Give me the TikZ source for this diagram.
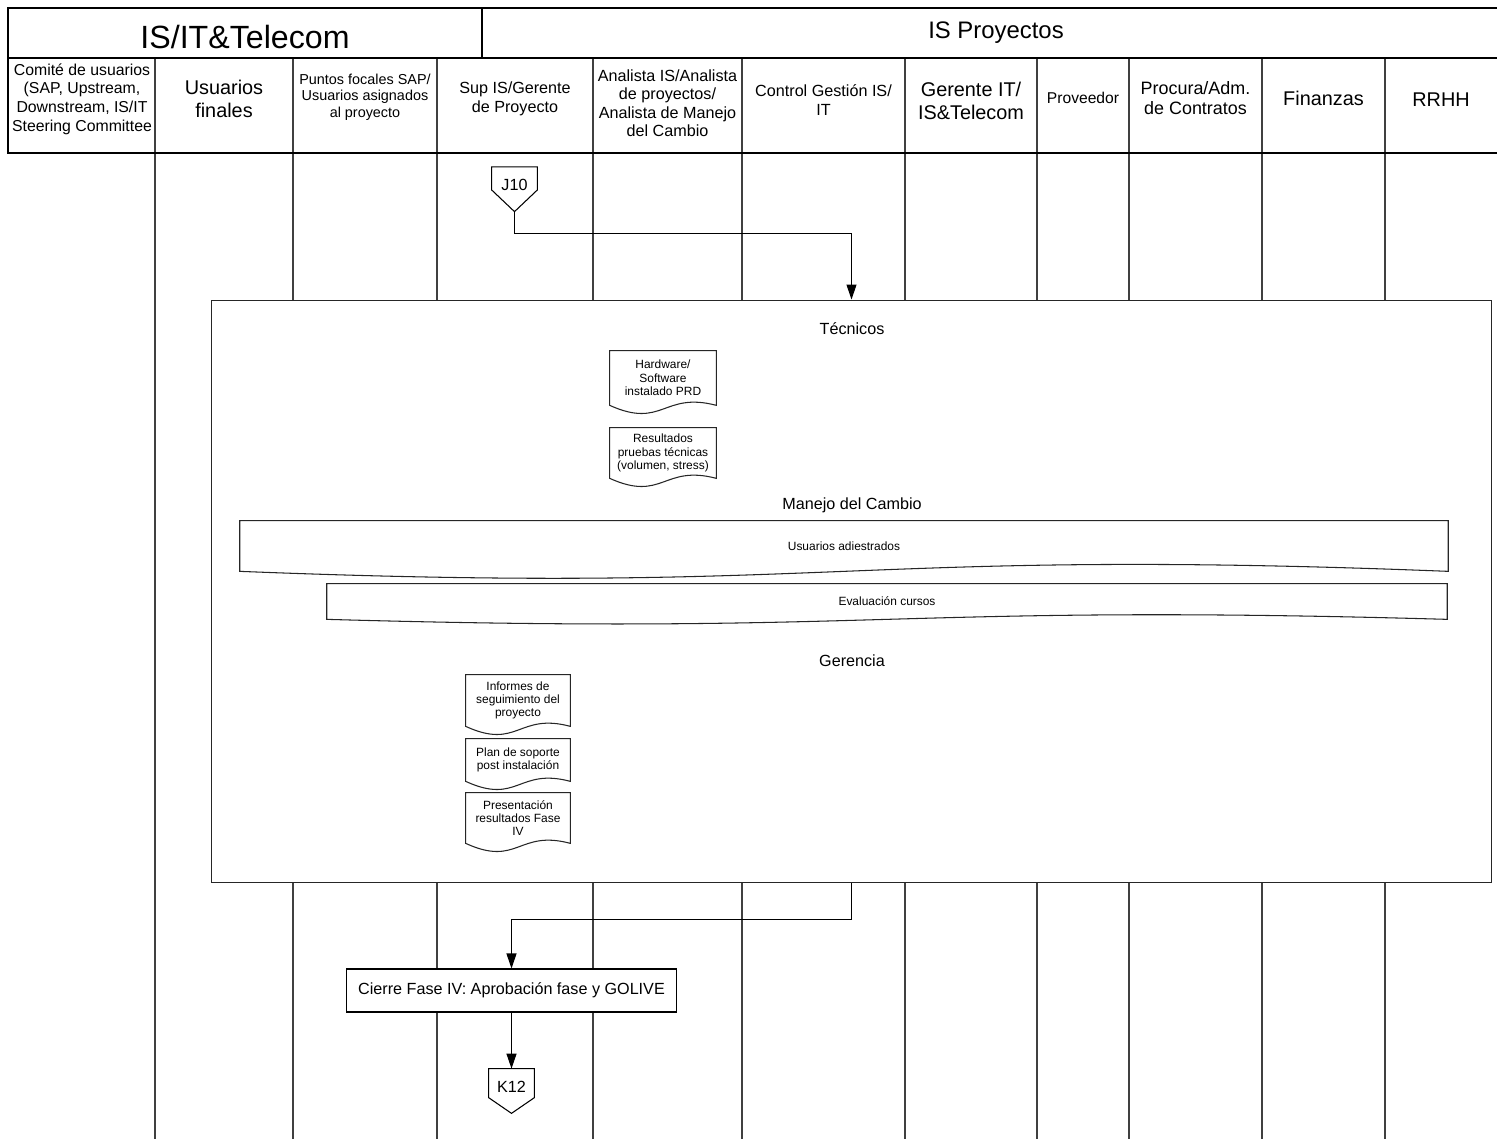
\documentclass[tikz,border=0pt]{standalone}
\usepackage{fontspec}
\setmainfont{Liberation Sans}
\usetikzlibrary{
  calc
  , positioning
  , arrows.meta
}

\begin{document}
\begin{tikzpicture}[x=0.02cm, y=-0.02cm,
    frame/.style={draw=black, line width=0.6pt},
    lane/.style={draw=black!75, line width=0.6pt},
    hdr/.style={align=center, inner sep=0pt, font=\fontsize{9.2}{10.5}\selectfont},
    hdrbig/.style={hdr, font=\fontsize{11.3}{13}\selectfont},
    doc/.style={align=center, inner sep=0pt, font=\fontsize{6.8}{7.6}\selectfont},
    docline/.style={draw=black!85, line width=0.6pt},
    offpage/.style={hdr, minimum width=0.9cm, minimum height=0.88cm, text depth=5pt},
    flow/.style={line width=0.6pt, -{Triangle[length=0.3cm,width=0.2cm]}},
  ]
  \useasboundingbox (0,0) rectangle (1497,1139);

  % lanes
  \foreach \x in {155,293,437,593,742,905,1037,1129,1262,1385}
    \draw[lane] (\x,58) -- (\x,1139);
  \draw[frame] (1497,8) -- (8,8) -- (8,153) -- (1497,153);
  \draw[frame] (8,58) -- (1497,58);
  \draw[frame] (482,8) -- (482,58);

  \node[font=\fontsize{18.3}{20}\selectfont] (ist) at (245,37) {IS/IT\&Telecom};
  \node[font=\fontsize{13.6}{15}\selectfont] (isp) at (996,33) {IS Proyectos};

  \node[hdr, font=\fontsize{9}{10.6}\selectfont] (com) at (82,99)
    {Comité de usuarios\\(SAP, Upstream,\\Downstream, IS/IT\\Steering Committee};
  \node[hdrbig] (usu) at (224,99) {Usuarios\\finales};
  \node[hdr, font=\fontsize{8.2}{9.4}\selectfont] (pfs) at (365,97)
    {Puntos focales SAP/\\Usuarios asignados\\al proyecto};
  \node[hdr] (sup) at (515,99) {Sup IS/Gerente\\de Proyecto};
  \node[hdr] (ana) at (667.5,103)
    {Analista IS/Analista\\de proyectos/\\Analista de Manejo\\del Cambio};
  \node[hdr] (cgi) at (823.5,100) {Control Gestión IS/\\IT};
  \node[hdrbig] (git) at (971,101) {Gerente IT/\\IS\&Telecom};
  \node[hdr, font=\fontsize{8.9}{10}\selectfont] (pro) at (1083,98) {Proveedor};
  \node[hdr, font=\fontsize{10.2}{11.6}\selectfont] (pac) at (1195.5,98)
    {Procura/Adm.\\de Contratos};
  \node[hdrbig] (fin) at (1323.5,98) {Finanzas};
  \node[hdrbig] (rrh) at (1441,100) {RRHH};

  % phase box
  \node[draw=black!85, fill=white, line width=0.6pt, inner sep=0pt,
    minimum width=25.62cm, minimum height=11.66cm] (fase) at (851.5,591.5) {};

  \node[hdr] (tec) at (852,329) {Técnicos};
  \node[hdr] (mdc) at (852,505) {Manejo del Cambio};
  \node[hdr] (ger) at (852,661) {Gerencia};

  \node[doc, minimum width=2.12cm, minimum height=1.08cm] (hw) at (663,378)
    {Hardware/\\Software\\instalado PRD};
  \node[doc, minimum width=2.12cm, minimum height=1.0cm] (res) at (663,453)
    {Resultados\\pruebas técnicas\\(volumen, stress)};
  \node[doc, minimum width=2.08cm, minimum height=1.02cm] (inf) at (518,700.5)
    {Informes de\\seguimiento del\\proyecto};
  \node[doc, minimum width=2.08cm, minimum height=0.84cm] (plan) at (518,760)
    {Plan de soporte\\post instalación};
  \node[doc, minimum width=2.08cm, minimum height=1.0cm] (pres) at (518,818)
    {Presentación\\resultados Fase\\IV};
  \foreach \d in {hw,res,inf,plan,pres}
    \draw[docline] (\d.south west) -- (\d.north west) -- (\d.north east) -- (\d.south east)
      .. controls ($(\d.south)+(0,-14)$) and ($(\d.south)+(0,24)$) .. (\d.south west) -- cycle;

  \node[doc, minimum width=24.16cm, minimum height=1.0cm] (uad) at (844,546)
    {Usuarios adiestrados};
  \node[doc, minimum width=22.4cm, minimum height=0.7cm] (evc) at (887,601.5)
    {Evaluación cursos};
  \foreach \b/\a in {uad/24,evc/16}
    \draw[docline] (\b.south west) -- (\b.north west) -- (\b.north east) -- (\b.south east)
      .. controls ($(\b.south)+(0,-\a)$) and ($(\b.south)+(0,\a)$) .. (\b.south west) -- cycle;

  % off-page references
  \node[offpage] (j10) at (514.5,189.3) {J10};
  \node[offpage] (k12) at (511.5,1091) {K12};
  \foreach \o/\s in {j10/23,k12/29}
    \draw[frame] (\o.south) -- ($(\o.north west)+(0,\s)$) -- (\o.north west)
      -- (\o.north east) -- ($(\o.north east)+(0,\s)$) -- cycle;

  \node[draw=black, fill=white, line width=0.6pt, inner sep=0pt,
    minimum width=6.6cm, minimum height=0.86cm, font=\fontsize{9.2}{10.5}\selectfont]
    (cie) at (511.5,990.5) {Cierre Fase IV: Aprobación fase y GOLIVE};

  \draw[flow] (j10.south) -- ++(0,22.3) -| (fase.north);
  \draw[flow] (fase.south) -- ++(0,36) -| (cie.north);
  \draw[flow] (cie.south) -- (k12.north);
\end{tikzpicture}
\end{document}
